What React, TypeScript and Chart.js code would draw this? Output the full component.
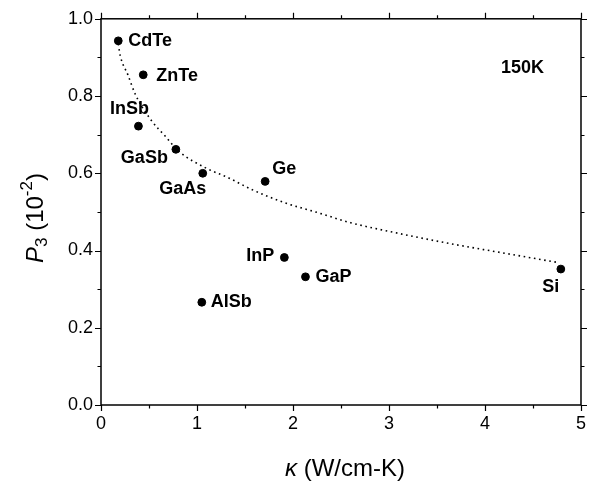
import React, { useEffect, useRef } from "react";
import { Chart, registerables } from "chart.js";

Chart.register(...registerables);

// Material labels and measured values
const materials = ["CdTe", "ZnTe", "InSb", "GaSb", "GaAs", "Ge", "InP", "GaP", "AlSb", "Si"];
const kappa = [0.18, 0.44, 0.39, 0.78, 1.06, 1.71, 1.91, 2.13, 1.05, 4.79];
const p3 = [0.943, 0.855, 0.722, 0.662, 0.6, 0.579, 0.382, 0.332, 0.266, 0.352];

// Dotted guide curve
const curveX = [0.18, 0.2, 0.28, 0.36, 0.53, 0.67, 0.81, 1.09, 1.33, 1.57, 1.91, 2.26, 2.6, 3.05, 3.57, 4.25, 4.76];
const curveY = [0.935, 0.905, 0.855, 0.803, 0.735, 0.696, 0.657, 0.614, 0.588, 0.558, 0.524, 0.498, 0.472, 0.447, 0.421, 0.391, 0.369];

// Axis ranges / ticks
const xMin = 0, xMax = 5, xMajor = 1, xMinor = 0.5;
const yMin = 0, yMax = 1, yMajor = 0.2, yMinor = 0.1;

const annotationText = "150K";
const annotationPos = { x: 4.39, y: 0.872 };

// Label placement (style only)
const labelPlacement: { align: CanvasTextAlign; dx: number; dy: number }[] = [
  { align: "left", dx: 10, dy: 0 },
  { align: "left", dx: 13, dy: 1 },
  { align: "center", dx: -9, dy: -17 },
  { align: "right", dx: -8, dy: 9 },
  { align: "center", dx: -20, dy: 16 },
  { align: "left", dx: 7, dy: -12 },
  { align: "right", dx: -10, dy: -1 },
  { align: "left", dx: 10, dy: 0 },
  { align: "left", dx: 9, dy: 0 },
  { align: "center", dx: -10, dy: 18 },
];

const FONT = "'Liberation Sans', Arial, Helvetica, sans-serif";

const decorPlugin = {
  id: "decor",
  afterDatasetsDraw(chart: any) {
    const ctx: CanvasRenderingContext2D = chart.ctx;
    const { left, right, top, bottom } = chart.chartArea;
    const xs = chart.scales.x;
    const ys = chart.scales.y;
    ctx.save();
    // frame
    ctx.strokeStyle = "#000";
    ctx.lineWidth = 1.5;
    ctx.strokeRect(left, top, right - left, bottom - top);
    // ticks
    ctx.lineWidth = 1.2;
    ctx.beginPath();
    const nx = Math.round((xMax - xMin) / xMinor);
    for (let i = 0; i <= nx; i++) {
      const v = xMin + i * xMinor;
      const isMajor = Math.abs(v / xMajor - Math.round(v / xMajor)) < 1e-6;
      const len = isMajor ? 6 : 3.5;
      const px = Math.round(xs.getPixelForValue(v)) + 0.5;
      ctx.moveTo(px, bottom);
      ctx.lineTo(px, bottom + len);
      ctx.moveTo(px, top);
      ctx.lineTo(px, top - len);
    }
    const ny = Math.round((yMax - yMin) / yMinor);
    for (let i = 0; i <= ny; i++) {
      const v = yMin + i * yMinor;
      const isMajor = Math.abs(v / yMajor - Math.round(v / yMajor)) < 1e-6;
      const len = isMajor ? 6 : 3.5;
      const py = Math.round(ys.getPixelForValue(v)) + 0.5;
      ctx.moveTo(left, py);
      ctx.lineTo(left - len, py);
      ctx.moveTo(right, py);
      ctx.lineTo(right + len, py);
    }
    ctx.stroke();

    // point labels
    const meta = chart.getDatasetMeta(1);
    ctx.fillStyle = "#000";
    ctx.font = `bold 18px ${FONT}`;
    ctx.textBaseline = "middle";
    meta.data.forEach((el: any, i: number) => {
      const pl = labelPlacement[i];
      ctx.textAlign = pl.align;
      ctx.fillText(materials[i], el.x + pl.dx, el.y + pl.dy);
    });

    // annotation
    ctx.textAlign = "center";
    ctx.fillText(annotationText, xs.getPixelForValue(annotationPos.x), ys.getPixelForValue(annotationPos.y));

    // x title: κ (W/cm-K)
    const cx = (left + right) / 2 + 4;
    const ty = 469;
    ctx.textBaseline = "middle";
    ctx.font = `italic 24px ${FONT}`;
    const w1 = ctx.measureText("κ").width;
    ctx.font = `24px ${FONT}`;
    const w2 = ctx.measureText(" (W/cm-K)").width;
    const sx = cx - (w1 + w2) / 2;
    ctx.textAlign = "left";
    ctx.font = `italic 24px ${FONT}`;
    ctx.fillText("κ", sx, ty);
    ctx.font = `24px ${FONT}`;
    ctx.fillText(" (W/cm-K)", sx + w1, ty);

    // y title: P3 (10^-2)
    const parts = [
      { t: "P", f: `italic 24px ${FONT}`, dy: 0 },
      { t: "3", f: `17px ${FONT}`, dy: 6 },
      { t: " (10", f: `24px ${FONT}`, dy: 0 },
      { t: "-2", f: `17px ${FONT}`, dy: -9 },
      { t: ")", f: `24px ${FONT}`, dy: 0 },
    ];
    let total = 0;
    const widths = parts.map((p) => {
      ctx.font = p.f;
      const w = ctx.measureText(p.t).width;
      total += w;
      return w;
    });
    ctx.translate(36, 218);
    ctx.rotate(-Math.PI / 2);
    let px = -total / 2;
    ctx.textBaseline = "middle";
    parts.forEach((p, i) => {
      ctx.font = p.f;
      ctx.fillText(p.t, px, p.dy);
      px += widths[i];
    });
    ctx.restore();
  },
};

export default function App() {
  const ref = useRef<HTMLCanvasElement | null>(null);
  useEffect(() => {
    if (!ref.current) return;
    const chart = new Chart(ref.current, {
      type: "scatter",
      data: {
        datasets: [
          {
            type: "line",
            data: curveX.map((x, i) => ({ x, y: curveY[i] })),
            borderColor: "#000",
            borderWidth: 1.6,
            borderDash: [1.6, 3.6],
            pointRadius: 0,
            fill: false,
            cubicInterpolationMode: "monotone",
          } as any,
          {
            data: kappa.map((x, i) => ({ x, y: p3[i] })),
            backgroundColor: "#000",
            borderColor: "#000",
            pointRadius: 3.9,
            pointHoverRadius: 3.9,
          },
        ],
      },
      options: {
        responsive: true,
        maintainAspectRatio: false,
        animation: false,
        events: [],
        layout: { padding: { top: 17, right: 9, left: 0, bottom: 0 } },
        plugins: { legend: { display: false }, tooltip: { enabled: false } },
        scales: {
          x: {
            type: "linear",
            min: xMin,
            max: xMax,
            grid: { display: false, drawTicks: false },
            border: { display: false },
            ticks: {
              stepSize: xMajor,
              padding: 8,
              color: "#000",
              font: { family: FONT, size: 18 },
              callback: (v: any) => String(v),
            },
            afterFit: (s: any) => {
              s.height = 77;
            },
          },
          y: {
            type: "linear",
            min: yMin,
            max: yMax,
            grid: { display: false, drawTicks: false },
            border: { display: false },
            ticks: {
              stepSize: yMajor,
              padding: 8,
              color: "#000",
              font: { family: FONT, size: 18 },
              callback: (v: any) => Number(v).toFixed(1),
            },
            afterFit: (s: any) => {
              s.width = 101;
            },
          },
        },
      },
      plugins: [decorPlugin],
    });
    return () => chart.destroy();
  }, []);
  return (
    <div style={{ position: "fixed", left: 0, top: 0, width: 594, height: 482, background: "#fff" }}>
      <canvas ref={ref} />
    </div>
  );
}
